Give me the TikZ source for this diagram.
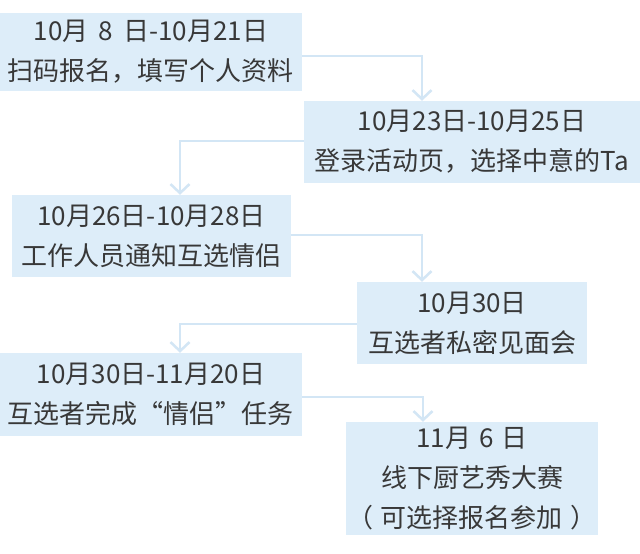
\documentclass[tikz,border=0pt]{standalone}
\usepackage{fontspec}
\setmainfont{Noto Sans CJK SC}
\usetikzlibrary{arrows.meta}
\definecolor{boxfill}{HTML}{DDEDF9}
\definecolor{linec}{HTML}{D3E6F5}
\definecolor{txt}{HTML}{383838}
\begin{document}
\begin{tikzpicture}[x=1pt,y=-1pt,
  stagebox/.style={fill=boxfill, inner sep=0pt, align=center, text=txt,
    font=\fontsize{26}{40}\selectfont},
  conn/.style={draw=linec, line width=2.5pt,
    -{Straight Barb[length=9pt,width=19pt]}}]
\useasboundingbox[fill=white] (0,0) rectangle (640,554);

\node[stagebox, minimum width=302pt, minimum height=78pt] (b1) at (151,52)
  {10月\hspace{10pt}8\hspace{10pt}日-10月21日\\扫码报名，填写个人资料};
\node[stagebox, minimum width=336pt, minimum height=82pt] (b2) at (472,142)
  {10月23日-10月25日\\登录活动页，选择中意的Ta};
\node[stagebox, minimum width=279pt, minimum height=82pt] (b3) at (151.5,236)
  {10月26日-10月28日\\工作人员通知互选情侣};
\node[stagebox, minimum width=230pt, minimum height=82pt] (b4) at (472,323)
  {10月30日\\互选者私密见面会};
\node[stagebox, minimum width=302pt, minimum height=83pt] (b5) at (151,394.5)
  {\raisebox{3pt}{10月30日-11月20日}\\\raisebox{3pt}{互选者完成{\addfontfeature{RawFeature=+fwid}“情侣”}任务}};
\node[stagebox, minimum width=252pt, minimum height=113pt] (b6) at (472,478.5)
  {11月\hspace{8pt}6\hspace{8pt}日\\线下厨艺秀大赛\\（\hspace{8pt}可选择报名参加\hspace{8pt}）};

\draw[conn] ([yshift=-4pt]b1.east) -| ([xshift=-50pt]b2.north);
\draw[conn] ([yshift=1pt]b2.west) -| ([xshift=28.5pt]b3.north);
\draw[conn] ([yshift=1pt]b3.east) -| ([xshift=-50pt]b4.north);
\draw[conn] ([yshift=-1pt]b4.west) -| ([xshift=29pt]b5.north);
\draw[conn] ([yshift=-2.5pt]b5.east) -| ([xshift=-49pt]b6.north);
\end{tikzpicture}
\end{document}
